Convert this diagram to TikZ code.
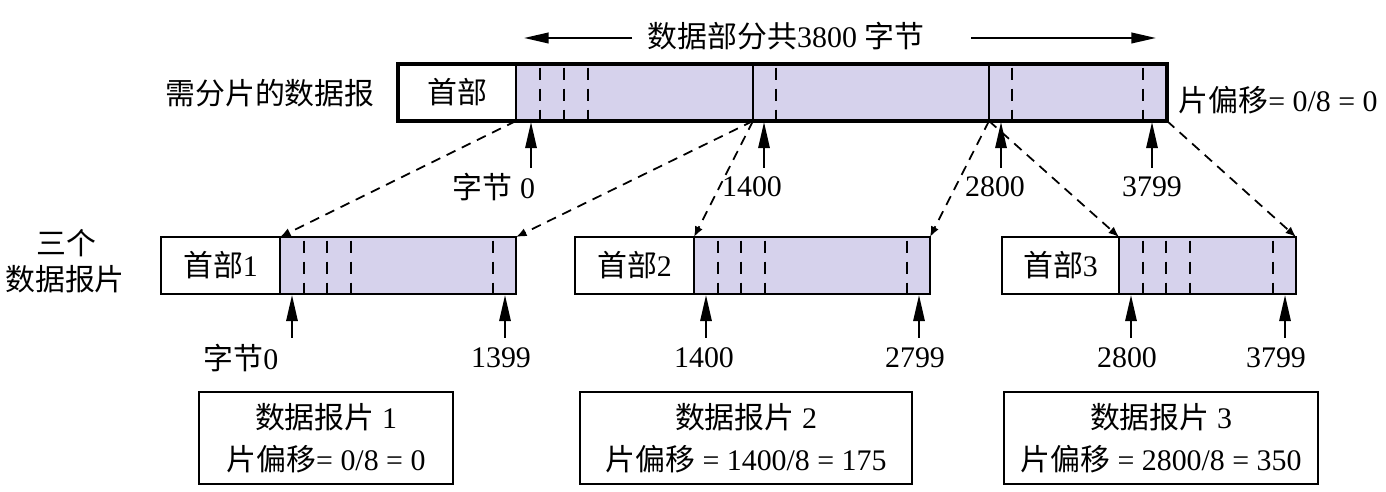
\documentclass[tikz,border=0pt]{standalone}
\usepackage{fontspec}
\setmainfont{Liberation Serif}
\newfontfamily\cjk{Noto Sans CJK SC}
\usetikzlibrary{arrows.meta}
\definecolor{datafill}{RGB}{214,210,236}
\tikzset{
  txt/.style={inner sep=0pt},
  cutline/.style={line width=0.45pt, dash pattern=on 3.6pt off 2.4pt, dash phase=-1pt},
  ptr/.style={line width=0.6pt, -{Triangle[length=7.4pt, width=3.2pt]}},
  mapline/.style={line width=0.5pt, dash pattern=on 2.8pt off 2pt, -{Latex[length=3pt, width=2.4pt]}},
  infobox/.style={draw, line width=0.6pt, align=center, minimum height=0.92cm, inner sep=0pt}
}

\begin{document}
\begin{tikzpicture}[x=0.01cm, y=-0.01cm, font=\fontsize{8.5}{12}\selectfont]
        \useasboundingbox (0,0) rectangle (1386,492);

        % delka datove casti
        \node[txt] (celkem) at (786,36) {{\cjk 数据部分共}3800 {\cjk 字节}};
        \coordinate (celkemL) at (632,38);
        \coordinate (celkemR) at (971,38);
        \coordinate (zacatek) at (524,38);
        \coordinate (konec) at (1156,38);
        \draw[line width=0.6pt, -{Triangle[length=7pt, width=3pt]}] (celkemL) -- (zacatek);
        \draw[line width=0.6pt, -{Triangle[length=7pt, width=3pt]}] (celkemR) -- (konec);

        % puvodni datagram
        \node[txt] (puvodni) at (270,93) {\cjk 需分片的数据报};
        \fill[datafill] (516,64) rectangle (1167,121);
        \foreach \x in {540,564,588,776,1012,1143}
            \draw[cutline] (\x,64) -- (\x,121);
        \draw[line width=0.45pt] (516,64) -- (516,121) (753,64) -- (753,121) (989,64) -- (989,121);
        \draw[line width=1.1pt] (398,64) rectangle (1167,121);
        \node[txt] (hlava) at (457,92) {\cjk 首部};
        \node[txt, anchor=west] (posun) at (1178,100) {{\cjk 片偏移}= 0/8 = 0};

        \coordinate (s0) at (516,121);
        \coordinate (s1) at (753,121);
        \coordinate (s2) at (989,121);
        \coordinate (s3) at (1167,121);

        % ukazatele na bajty
        \foreach \x/\n in {531/a0,764/a1,1001/a2,1152/a3} {
            \coordinate (\n-top) at (\x,122);
            \coordinate (\n-bot) at (\x,168);
            \draw[ptr] (\n-bot) -- (\n-top);
        }
        \node[txt] (bajt0) at (494,187) {{\cjk 字节} 0};
        \node[txt] (bajt1400) at (752,187) {1400};
        \node[txt] (bajt2800) at (995,187) {2800};
        \node[txt] (bajt3799) at (1152,187) {3799};

        % tri fragmenty
        \node[txt] (tri) at (66,243) {\cjk 三个};
        \node[txt] (fragmenty) at (65,279) {\cjk 数据报片};

        \foreach \k/\lx/\hx/\rx in {1/161/280/516, 2/575/694/930, 3/1002/1119/1296} {
            \fill[datafill] (\hx,237) rectangle (\rx,294);
            \foreach \d in {24,47,71}
                \draw[cutline] (\hx+\d,237) -- (\hx+\d,294);
            \draw[cutline] (\rx-23,237) -- (\rx-23,294);
            \draw[line width=0.6pt] (\lx,237) rectangle (\rx,294) (\hx,237) -- (\hx,294);
            \node[txt] (hlava\k) at ({(\lx+\hx)/2},265) {{\cjk 首部}\k};
            \coordinate (f\k l) at (\hx,237);
            \coordinate (f\k r) at (\rx,237);
            \coordinate (b\k l-top) at (\hx+12,295);
            \coordinate (b\k l-bot) at (\hx+12,338);
            \coordinate (b\k r-top) at (\rx-11,295);
            \coordinate (b\k r-bot) at (\rx-11,338);
            \draw[ptr] (b\k l-bot) -- (b\k l-top);
            \draw[ptr] (b\k r-bot) -- (b\k r-top);
        }

        \node[txt] (f1zac) at (241,358) {{\cjk 字节}0};
        \node[txt] (f1kon) at (501,358) {1399};
        \node[txt] (f2zac) at (704,358) {1400};
        \node[txt] (f2kon) at (915,358) {2799};
        \node[txt] (f3zac) at (1127,358) {2800};
        \node[txt] (f3kon) at (1276,358) {3799};

        % mapovani casti
        \draw[mapline] (s0) -- (f1l);
        \draw[mapline] (s1) -- (f1r);
        \draw[mapline] (s1) -- (f2l);
        \draw[mapline] (s2) -- (f2r);
        \draw[mapline] (s2) -- (f3l);
        \draw[mapline] (s3) -- (f3r);

        % popisy fragmentu
        \node[infobox, minimum width=2.54cm] (info1) at (326,438)
            {{\cjk 数据报片} 1\\{\cjk 片偏移}= 0/8 = 0};
        \node[infobox, minimum width=3.32cm] (info2) at (746,438)
            {{\cjk 数据报片} 2\\{\cjk 片偏移} = 1400/8 = 175};
        \node[infobox, minimum width=3.13cm] (info3) at (1161,438)
            {{\cjk 数据报片} 3\\{\cjk 片偏移} = 2800/8 = 350};

    \end{tikzpicture}
\end{document}
